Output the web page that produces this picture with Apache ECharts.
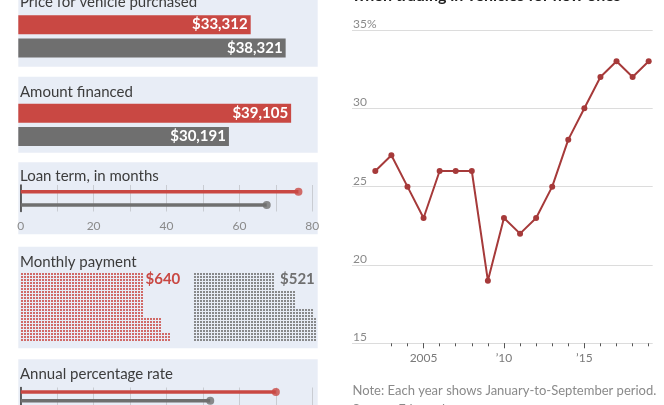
<!DOCTYPE html>
<html>
<head>
<meta charset="utf-8">
<script src="https://cdn.jsdelivr.net/npm/echarts@6/dist/echarts.min.js"></script>
<style>
html,body{margin:0;padding:0;background:#fff;}
#chart{width:664px;height:405px;}
</style>
</head>
<body>
<div id="chart"></div>
<script>
// ---- data ----
const groupNames = ['Negative equity', 'Others'];
const priceValues = [33312, 38321];
const financedValues = [39105, 30191];
const loanTermValues = [76.2, 67.5];
const monthlyPaymentValues = [640, 521];
const aprValues = [7.0, 5.2];
const years = [2002,2003,2004,2005,2006,2007,2008,2009,2010,2011,2012,2013,2014,2015,2016,2017,2018,2019];
const sharePct = [26,27,25,23,26,26,26,19,23,22,23,25,28,30,32,33,32,33];
const yearTickValues = [2003,2004,2005,2006,2007,2008,2009,2010,2011,2012,2013,2014,2015,2016,2017,2018,2019];
const yearLabelValues = [2005, 2010, 2015];
const loanTickLabels = [0, 20, 40, 60, 80];

// ---- styles ----
const RED = '#c94843';
const GREY = '#6f6f6f';
const LINE_RED = '#a63a3a';
const PANEL = '#e8edf6';
const TXT = '#3c3c3c';
const FONT = 'Lato, "Noto Sans", sans-serif';
const SQUARE_VALUE = 0.64; // dollars per square
const WAFFLE_ROWS = 23;
const redSegments = [[41, 23], [6, 8], [3, 3]];
const greySegments = [[27, 23], [7, 17], [7, 11]];

function fmtMoney(v) { return '$' + v.toLocaleString('en-US'); }

function buildWaffle(value, segments) {
  const n = Math.round(value / SQUARE_VALUE);
  const pts = [];
  let colOffset = 0;
  for (const [cols, rows] of segments) {
    for (let c = 0; c < cols; c++) {
      for (let r = 0; r < rows; r++) {
        if (pts.length < n) pts.push([colOffset + c + 0.5, r + 0.5]);
      }
    }
    colOffset += cols;
  }
  return pts;
}
function totalCols(segs) { return segs.reduce((a, s) => a + s[0], 0); }

const chart = echarts.init(document.getElementById('chart'), null, {renderer: 'canvas'});

const panels = [
  [-20, 86.7], [76.7, 76], [162.3, 72], [246.7, 101.6], [359.3, 60]
];

const graphics = panels.map(p => ({
  type: 'rect', z: -10, silent: true,
  shape: {x: 18.3, y: p[0], width: 299.4, height: p[1]},
  style: {fill: PANEL}
}));

function txt(text, x, y, opts) {
  return {
    type: 'text', z: 100, silent: true,
    style: Object.assign({
      text: text, x: x, y: y, fill: TXT, font: '15px ' + FONT,
      textVerticalAlign: 'middle', textAlign: 'left'
    }, opts || {})
  };
}

graphics.push(
  txt('Price for vehicle purchased', 20, 2),
  txt('Amount financed', 20, 91.7),
  txt('Loan term, in months', 20, 175.7),
  txt('Monthly payment', 20, 261.7),
  txt('Annual percentage rate', 20, 374),
  txt(fmtMoney(monthlyPaymentValues[0]), 145.5, 279.5, {fill: RED, font: 'bold 15px ' + FONT}),
  txt(fmtMoney(monthlyPaymentValues[1]), 280, 279.5, {fill: GREY, font: 'bold 15px ' + FONT}),
  txt('when trading in vehicles for new ones', 352.5, -4, {fill: '#222', font: 'bold 16px ' + FONT}),
  txt('Note: Each year shows January-to-September period.', 352.5, 391, {fill: '#8a8a8a', font: '13px ' + FONT}),
  txt('Source: Edmunds', 352.5, 410, {fill: '#8a8a8a', font: '13px ' + FONT})
);

const barLabel = {
  show: true, position: 'insideRight', distance: 3,
  color: '#fff', fontWeight: 'bold', fontSize: 15, fontFamily: FONT,
  formatter: p => fmtMoney(p.value)
};

function coloredBars(vals) {
  return vals.map((v, i) => ({value: v, itemStyle: {color: i === 0 ? RED : GREY}}));
}

const hiddenCat = (gi) => ({
  type: 'category', gridIndex: gi, data: groupNames, inverse: true,
  axisLine: {show: false}, axisTick: {show: false}, axisLabel: {show: false}
});
const hiddenMoney = (gi) => ({
  type: 'value', gridIndex: gi, min: 0, max: 43000,
  axisLine: {show: false}, axisTick: {show: false}, axisLabel: {show: false}, splitLine: {show: false}
});
const lolliX = (gi, max, labels) => ({
  type: 'value', gridIndex: gi, min: 0, max: max, interval: max / 8,
  axisLine: {show: false}, axisTick: {show: false},
  splitLine: {show: true, lineStyle: {color: '#c9ccd2', width: 1}},
  axisLabel: labels ? {
    show: true, customValues: loanTickLabels, margin: 9, color: '#8a8a8a',
    fontSize: 12, fontFamily: FONT
  } : {show: false}
});
const lolliY = (gi) => ({
  type: 'category', gridIndex: gi, data: groupNames, inverse: true,
  axisLine: {show: true, lineStyle: {color: '#333', width: 1.5}},
  axisTick: {show: false}, axisLabel: {show: false}
});
const waffleX = (gi, cols) => ({
  type: 'value', gridIndex: gi, min: 0, max: cols, show: false
});
const waffleY = (gi) => ({
  type: 'value', gridIndex: gi, min: 0, max: WAFFLE_ROWS, show: false
});

const option = {
  animation: false,
  textStyle: {fontFamily: FONT},
  graphic: graphics,
  grid: [
    {left: 18.3, top: 13, width: 300, height: 46.5},      // 0 price
    {left: 18.3, top: 101.6, width: 300, height: 46.4},   // 1 financed
    {left: 20.7, top: 185, width: 291.6, height: 26.5},   // 2 loan
    {left: 20.5, top: 272.5, width: totalCols(redSegments) * 3, height: WAFFLE_ROWS * 3}, // 3
    {left: 193.5, top: 272.5, width: totalCols(greySegments) * 3, height: WAFFLE_ROWS * 3}, // 4
    {left: 20.7, top: 387.5, width: 291.6, height: 23},   // 5 APR
    {left: 352, right: 11.3, top: 30, bottom: 61.7}       // 6 line
  ],
  xAxis: [
    hiddenMoney(0),
    hiddenMoney(1),
    lolliX(2, 80, true),
    waffleX(3, totalCols(redSegments)),
    waffleX(4, totalCols(greySegments)),
    lolliX(5, 8, false),
    {
      type: 'value', gridIndex: 6, min: 2000.55, max: 2019.25, position: 'bottom',
      axisLine: {show: false}, splitLine: {show: false},
      axisTick: {show: true, customValues: yearTickValues, length: 3, lineStyle: {color: '#555'}},
      axisLabel: {
        show: true, customValues: yearLabelValues, margin: 9, color: '#7a7a7a', fontSize: 12,
        fontFamily: FONT,
        formatter: v => v === 2005 ? String(v) : "\u2019" + String(v).slice(2)
      }
    },
    {
      type: 'value', gridIndex: 6, min: 2000.55, max: 2019.25, position: 'bottom', offset: 0,
      axisLine: {show: false}, splitLine: {show: false},
      axisTick: {show: true, customValues: yearLabelValues, length: 5, lineStyle: {color: '#555'}},
      axisLabel: {show: false}
    }
  ],
  yAxis: [
    hiddenCat(0),
    hiddenCat(1),
    lolliY(2),
    waffleY(3),
    waffleY(4),
    lolliY(5),
    {
      type: 'value', gridIndex: 6, min: 15, max: 35, interval: 5,
      axisLine: {show: false}, axisTick: {show: false},
      splitLine: {show: true, lineStyle: {color: '#dcdcdc', width: 1}},
      axisLabel: {
        inside: true, margin: 1, verticalAlign: 'bottom', color: '#8a8a8a', fontSize: 12,
        fontFamily: FONT, formatter: v => v === 35 ? v + '%' : String(v)
      }
    }
  ],
  series: [
    {type: 'bar', xAxisIndex: 0, yAxisIndex: 0, barWidth: 19, data: coloredBars(priceValues), label: barLabel},
    {type: 'bar', xAxisIndex: 1, yAxisIndex: 1, barWidth: 19, data: coloredBars(financedValues), label: barLabel},
    {type: 'bar', xAxisIndex: 2, yAxisIndex: 2, barWidth: 3.5, data: coloredBars(loanTermValues), z: 3},
    {type: 'scatter', xAxisIndex: 2, yAxisIndex: 2, symbolSize: 8, z: 4,
      data: loanTermValues.map((v, i) => ({value: [v, i], itemStyle: {color: i === 0 ? RED : GREY}}))},
    {type: 'scatter', xAxisIndex: 3, yAxisIndex: 3, symbol: 'rect', symbolSize: 2,
      itemStyle: {color: RED}, data: buildWaffle(monthlyPaymentValues[0], redSegments)},
    {type: 'scatter', xAxisIndex: 4, yAxisIndex: 4, symbol: 'rect', symbolSize: 2,
      itemStyle: {color: GREY}, data: buildWaffle(monthlyPaymentValues[1], greySegments)},
    {type: 'bar', xAxisIndex: 5, yAxisIndex: 5, barWidth: 3.5, data: coloredBars(aprValues), z: 3},
    {type: 'scatter', xAxisIndex: 5, yAxisIndex: 5, symbolSize: 8, z: 4,
      data: aprValues.map((v, i) => ({value: [v, i], itemStyle: {color: i === 0 ? RED : GREY}}))},
    {type: 'line', xAxisIndex: 6, yAxisIndex: 6,
      data: years.map((y, i) => [y, sharePct[i]]),
      lineStyle: {color: LINE_RED, width: 2}, itemStyle: {color: LINE_RED},
      symbol: 'circle', symbolSize: 6, showSymbol: true}
  ]
};
chart.setOption(option);
</script>
</body>
</html>
